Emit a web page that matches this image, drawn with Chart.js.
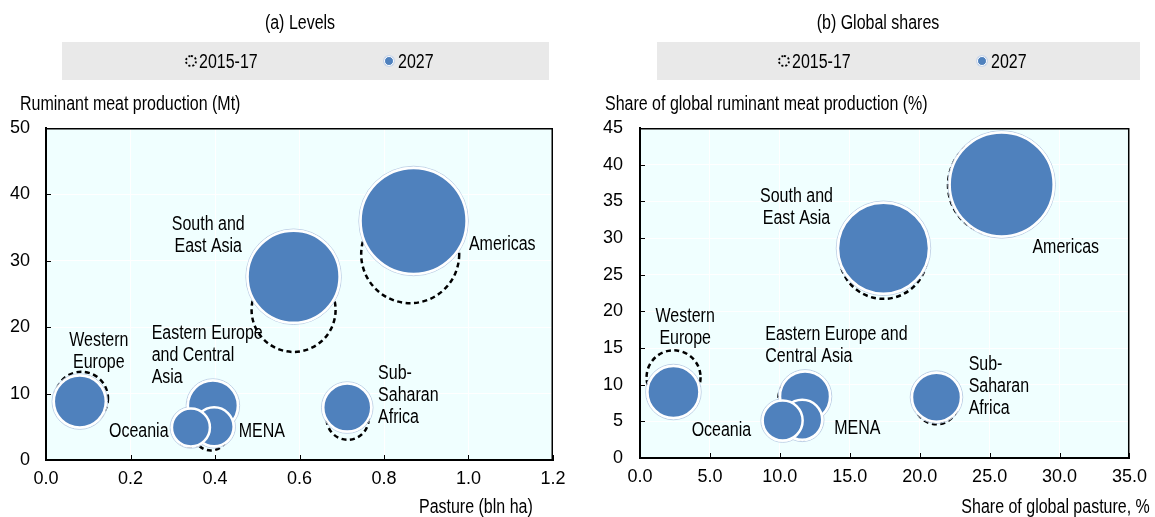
<!DOCTYPE html>
<html><head><meta charset="utf-8">
<script src="https://cdn.jsdelivr.net/npm/chart.js@4.4.1/dist/chart.umd.min.js"></script>
<style>
body{margin:0;width:1155px;height:517px;position:relative;overflow:hidden;background:#fff;font-family:'Liberation Sans',Arial,sans-serif;color:#000;font-size:19.5px}
.t{position:absolute;white-space:nowrap;line-height:20px;z-index:2;transform:scaleX(0.82);transform-origin:left center}
.t.r{transform-origin:right center}
.t.c{transform:translateX(-50%) scaleX(0.82);transform-origin:center center}
.band{position:absolute;background:#E9E9E9;top:42px;height:38px;z-index:1}
.mk1{position:absolute;width:8px;height:8px;border:2px dotted #000;border-radius:50%;z-index:2}
.mk2{position:absolute;width:8px;height:8px;background:#4F81BD;border:1.5px solid #fff;box-shadow:0 0 0 1px #c9d6ea;border-radius:50%;z-index:2}
canvas{position:absolute;top:0;z-index:0}
</style></head>
<body>
<canvas id="c1" width="580" height="517" style="left:0"></canvas>
<canvas id="c2" width="575" height="517" style="left:580px"></canvas>

<div class="t c" style="left:300px;top:12px">(a) Levels</div>
<div class="band" style="left:62px;width:487px"></div>
<div class="mk1" style="left:185px;top:55px"></div>
<div class="t" style="left:199px;top:51px">2015-17</div>
<div class="mk2" style="left:384px;top:56px"></div>
<div class="t" style="left:398px;top:51px">2027</div>
<div class="t" style="left:20px;top:93px">Ruminant meat production (Mt)</div>
<div class="t r" style="right:622px;top:496px">Pasture (bln ha)</div>

<div class="t c" style="left:878px;top:12px">(b) Global shares</div>
<div class="band" style="left:657px;width:483px"></div>
<div class="mk1" style="left:778px;top:55px"></div>
<div class="t" style="left:792px;top:51px">2015-17</div>
<div class="mk2" style="left:977px;top:56px"></div>
<div class="t" style="left:991px;top:51px">2027</div>
<div class="t" style="left:605px;top:93px">Share of global ruminant meat production (%)</div>
<div class="t r" style="right:5px;top:496px">Share of global pasture, %</div>

<script>
// ---- DATA ----
const regions = ["Americas","South and East Asia","Western Europe","Eastern Europe and Central Asia","MENA","Oceania","Sub-Saharan Africa"];

// (a) Levels: pasture (bln ha), ruminant meat production (Mt), bubble size (px)
const levelsPasture2015 = [0.862, 0.586, 0.084, 0.390, 0.390, 0.343, 0.714];
const levelsMeat2015    = [31.0, 22.6, 9.3, 7.8, 4.0, 4.6, 6.2];
const levelsSize2015    = [49, 42, 26.5, 23, 17, 17, 21];
const levelsPasture2027 = [0.870, 0.586, 0.080, 0.395, 0.398, 0.343, 0.713];
const levelsMeat2027    = [36.0, 27.6, 8.8, 8.2, 5.0, 4.9, 7.9];
const levelsSize2027    = [53, 46, 26, 25, 19.5, 19, 24];

// (b) Global shares: share of pasture (%), share of meat production (%), bubble size (px)
const sharesPasture2015 = [25.6, 17.4, 2.4, 11.6, 11.6, 10.2, 21.2];
const sharesMeat2015    = [37.2, 27.7, 11.0, 8.0, 5.0, 5.0, 7.6];
const sharesSize2015    = [50, 44, 27, 24, 18, 18, 22];
const sharesPasture2027 = [25.86, 17.41, 2.39, 11.8, 11.6, 10.2, 21.2];
const sharesMeat2027    = [37.3, 28.6, 9.0, 8.4, 5.2, 5.1, 8.3];
const sharesSize2027    = [52, 45.5, 26, 25, 20, 20, 24.5];

const levelsXTicks = ["0.0","0.2","0.4","0.6","0.8","1.0","1.2"];
const levelsYTicks = ["0","10","20","30","40","50"];
const sharesXTicks = ["0.0","5.0","10.0","15.0","20.0","25.0","30.0","35.0"];
const sharesYTicks = ["0","5","10","15","20","25","30","35","40","45"];

// Region labels, anchored in data coordinates
const levelsLabels = [
  {lines:["South and","East Asia"], x:0.384, y:35.5, align:"center"},
  {lines:["Americas"], x:1.001, y:32.5, align:"left"},
  {lines:["Western","Europe"], x:0.125, y:18.0, align:"center"},
  {lines:["Eastern Europe","and Central","Asia"], x:0.250, y:19.0, align:"left"},
  {lines:["Oceania"], x:0.290, y:4.26, align:"right"},
  {lines:["MENA"], x:0.456, y:4.26, align:"left"},
  {lines:["Sub-","Saharan","Africa"], x:0.786, y:13.06, align:"left"}
];
const sharesLabels = [
  {lines:["South and","East Asia"], x:11.19, y:35.6, align:"center"},
  {lines:["Americas"], x:28.06, y:28.7, align:"left"},
  {lines:["Western","Europe"], x:3.23, y:19.27, align:"center"},
  {lines:["Eastern Europe and","Central Asia"], x:8.96, y:16.77, align:"left"},
  {lines:["Oceania"], x:7.95, y:3.68, align:"right"},
  {lines:["MENA"], x:13.89, y:3.95, align:"left"},
  {lines:["Sub-","Saharan","Africa"], x:23.5, y:12.78, align:"left"}
];

// ---- RENDERING ----
const FONT = "'Liberation Sans', Arial, sans-serif";
Chart.defaults.font.family = FONT;
Chart.defaults.font.size = 18;
Chart.defaults.color = '#000';

const pts = (xs, ys, rs) => xs.map((x, i) => ({x, y: ys[i], r: rs[i]}));

const bgPlugin = {
  id: 'plotBg',
  beforeDraw(c) {
    const a = c.chartArea, ctx = c.ctx;
    ctx.save(); ctx.fillStyle = '#F0FFFF';
    ctx.fillRect(a.left, a.top, a.right - a.left, a.bottom - a.top);
    ctx.restore();
  },
  beforeDatasetsDraw(c) {
    const a = c.chartArea, ctx = c.ctx;
    ctx.save(); ctx.strokeStyle = '#000'; ctx.lineWidth = 1;
    c.scales.x.ticks.forEach((t, i) => {
      const px = Math.round(c.scales.x.getPixelForTick(i)) + 0.5;
      ctx.beginPath(); ctx.moveTo(px, a.bottom); ctx.lineTo(px, a.bottom - 5); ctx.stroke();
    });
    c.scales.y.ticks.forEach((t, i) => {
      const py = Math.round(c.scales.y.getPixelForTick(i)) + 0.5;
      ctx.beginPath(); ctx.moveTo(a.left, py); ctx.lineTo(a.left + 5, py); ctx.stroke();
    });
    ctx.restore();
  },
  afterDraw(c) {
    const a = c.chartArea, ctx = c.ctx;
    ctx.save(); ctx.strokeStyle = '#000'; ctx.lineWidth = 1.5;
    ctx.beginPath(); ctx.moveTo(a.left, a.top + 0.75); ctx.lineTo(a.right - 0.75, a.top + 0.75); ctx.lineTo(a.right - 0.75, a.bottom); ctx.stroke();
    ctx.restore();
  }
};

const dashPlugin = {
  id: 'dashedBubbles',
  afterDatasetDraw(c, args) {
    if (args.index !== 0) return;
    const ctx = c.ctx;
    ctx.save(); ctx.strokeStyle = '#000'; ctx.lineWidth = 2.5; ctx.setLineDash([5, 3.5]);
    args.meta.data.forEach(el => {
      ctx.beginPath(); ctx.arc(el.x, el.y, el.options.radius, 0, Math.PI * 2); ctx.stroke();
    });
    ctx.restore();
  },
  beforeDatasetDraw(c, args) {
    if (args.index !== 1) return;
    const ctx = c.ctx;
    ctx.save(); ctx.strokeStyle = '#BFD0E6'; ctx.lineWidth = 1;
    args.meta.data.forEach(el => {
      ctx.beginPath(); ctx.arc(el.x, el.y, el.options.radius + el.options.borderWidth / 2 + 0.5, 0, Math.PI * 2); ctx.stroke();
    });
    ctx.restore();
  }
};

const labelPlugin = {
  id: 'regionLabels',
  afterDatasetsDraw(c, args, opts) {
    const ctx = c.ctx;
    ctx.save(); ctx.fillStyle = '#000'; ctx.font = '19.5px ' + FONT; ctx.textBaseline = 'middle';
    (opts.items || []).forEach(l => {
      const px = c.scales.x.getPixelForValue(l.x), py = c.scales.y.getPixelForValue(l.y);
      ctx.textAlign = l.align;
      l.lines.forEach((s, k) => {
        ctx.save(); ctx.translate(px, py + k * 22); ctx.scale(0.82, 1);
        ctx.fillText(s, 0, 0); ctx.restore();
      });
    });
    ctx.restore();
  }
};

function makeChart(id, d) {
  return new Chart(document.getElementById(id), {
    type: 'bubble',
    data: { datasets: [
      { label: '2015-17', data: pts(d.x0, d.y0, d.r0), backgroundColor: 'rgba(0,0,0,0)', borderWidth: 0, order: 2 },
      { label: '2027', data: pts(d.x1, d.y1, d.r1), backgroundColor: '#4F81BD', borderColor: '#FFFFFF', borderWidth: 2.5, order: 1 }
    ]},
    options: {
      responsive: false, animation: false, events: [],
      layout: { autoPadding: false, padding: { left: 0, right: d.padRight, top: 128, bottom: 517 - d.bottom - 40 } },
      plugins: { legend: { display: false }, tooltip: { enabled: false }, title: { display: false },
                 regionLabels: { items: d.labels } },
      scales: {
        x: { type: 'linear', min: d.xMin, max: d.xMax,
             ticks: { stepSize: d.xStep, padding: 8, autoSkip: false, maxRotation: 0, callback: (v, i) => d.xTicks[i] },
             grid: { color: '#FFFFFF', lineWidth: 1, drawTicks: false },
             border: { color: '#000', width: 2 },
             afterFit(s) { s.height = 40; } },
        y: { type: 'linear', min: d.yMin, max: d.yMax,
             ticks: { stepSize: d.yStep, padding: d.yPad, autoSkip: false, callback: (v, i) => d.yTicks[i] },
             grid: { color: '#FFFFFF', lineWidth: 1, drawTicks: false },
             border: { color: '#000', width: 2 },
             afterFit(s) { s.width = d.yWidth; } }
      }
    },
    plugins: [bgPlugin, dashPlugin, labelPlugin]
  });
}

makeChart('c1', { x0: levelsPasture2015, y0: levelsMeat2015, r0: levelsSize2015,
  x1: levelsPasture2027, y1: levelsMeat2027, r1: levelsSize2027,
  xMin: 0, xMax: 1.2, xStep: 0.2, yMin: 0, yMax: 50, yStep: 10,
  xTicks: levelsXTicks, yTicks: levelsYTicks, labels: levelsLabels,
  padRight: 27, bottom: 460, yWidth: 46, yPad: 16 });

makeChart('c2', { x0: sharesPasture2015, y0: sharesMeat2015, r0: sharesSize2015,
  x1: sharesPasture2027, y1: sharesMeat2027, r1: sharesSize2027,
  xMin: 0, xMax: 35, xStep: 5, yMin: 0, yMax: 45, yStep: 5,
  xTicks: sharesXTicks, yTicks: sharesYTicks, labels: sharesLabels,
  padRight: 16, bottom: 458, yWidth: 60, yPad: 17 });
</script>
</body></html>
